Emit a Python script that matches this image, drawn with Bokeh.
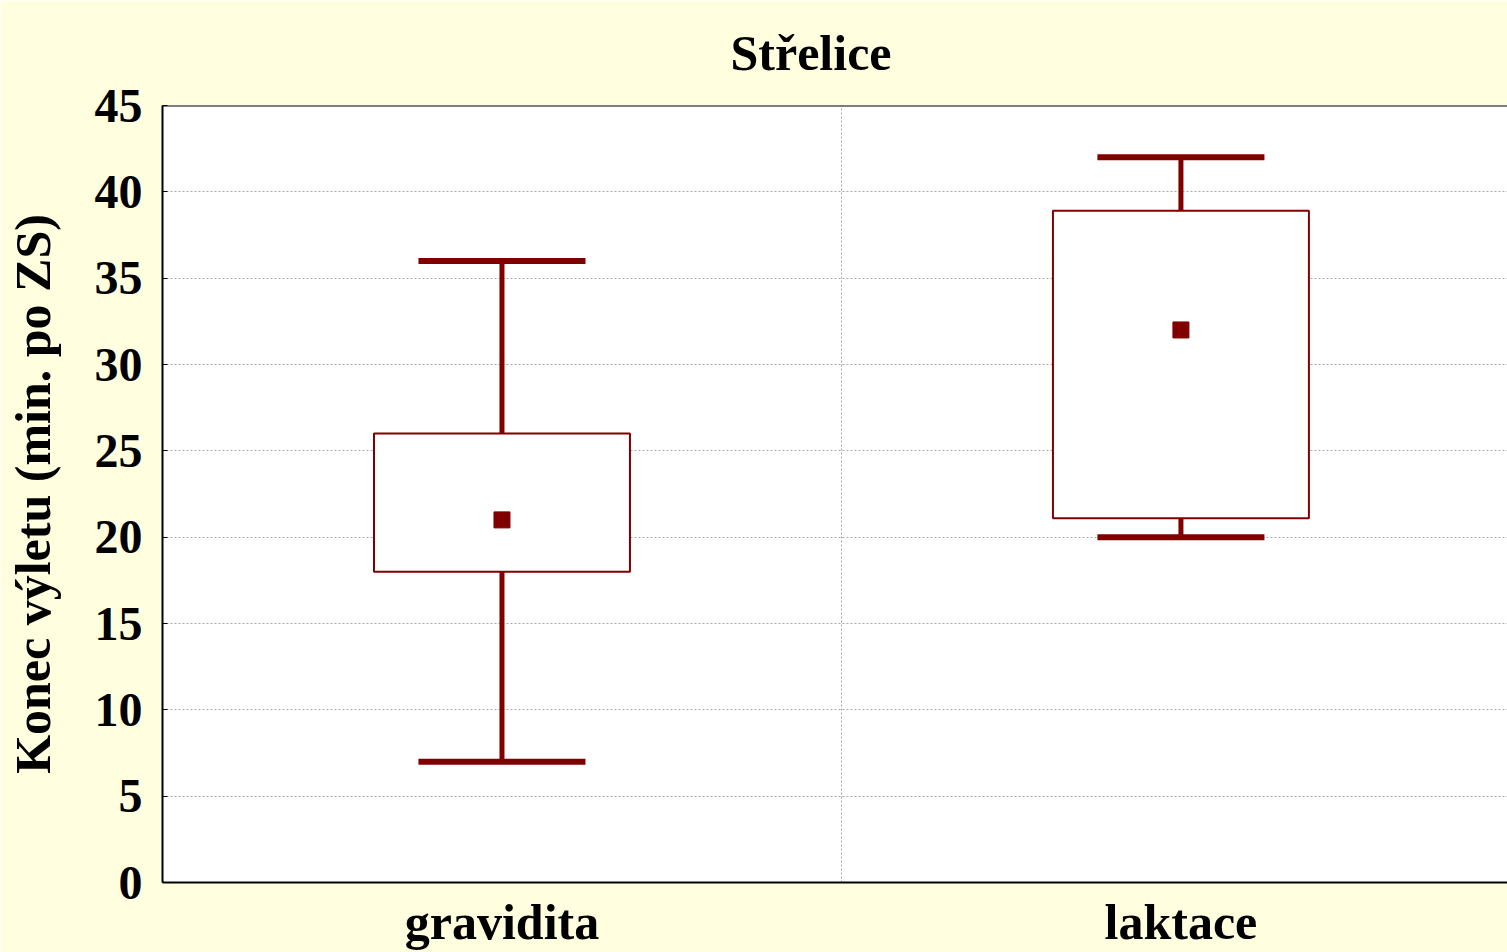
from bokeh.plotting import figure
from bokeh.models import Range1d, FixedTicker, ColumnDataSource, Span
from bokeh.embed import file_html
from bokeh.resources import INLINE

# ---- data ----
categories = ["gravidita", "laktace"]
whisker_low = [7, 20]
box_low = [18, 21.1]
center_val = [21, 32]
box_high = [26, 38.9]
whisker_high = [36, 42]
y_ticks = [0, 5, 10, 15, 20, 25, 30, 35, 40, 45]

title_text = "Střelice"
y_label_text = "Konec výletu (min. po ZS)"

# ---- styles ----
DARK_RED = "#800000"
BG = "#FFFFDF"
FONT = "Liberation Serif"
BOX_HALF = 0.1885
CAP_HALF = 0.123

xpos = [i + 0.5 for i in range(len(categories))]
src = ColumnDataSource(dict(
    x=xpos, wl=whisker_low, bl=box_low, c=center_val,
    bh=box_high, wh=whisker_high,
    left=[v - BOX_HALF for v in xpos], right=[v + BOX_HALF for v in xpos],
    cl=[v - CAP_HALF for v in xpos], cr=[v + CAP_HALF for v in xpos],
))

p = figure(width=1507, height=952, output_backend="svg", toolbar_location=None,
           x_range=Range1d(0, 1.981), y_range=Range1d(0, 45),
           min_border_left=162, min_border_top=105, min_border_bottom=70,
           min_border_right=0, title=title_text)
p.border_fill_color = BG
p.background_fill_color = "white"
p.outline_line_color = None

# title
p.title.text_font = FONT
p.title.text_font_style = "bold"
p.title.text_font_size = "50px"
p.title.text_color = "black"
p.title.align = "left"
p.title.offset = 568
p.title.vertical_align = "top"
p.title.standoff = 46

# axes
p.yaxis.ticker = FixedTicker(ticks=y_ticks)
p.yaxis.major_label_text_font = FONT
p.yaxis.major_label_text_font_style = "bold"
p.yaxis.major_label_text_font_size = "48px"
p.yaxis.major_label_text_color = "black"
p.yaxis.major_label_standoff = 20
p.yaxis.major_tick_in = 5
p.yaxis.major_tick_out = 0
p.yaxis.minor_tick_line_color = None
p.yaxis.axis_line_width = 2
p.yaxis.axis_line_color = "black"
p.yaxis.axis_label = y_label_text
p.yaxis.axis_label_text_font = FONT
p.yaxis.axis_label_text_font_style = "bold"
p.yaxis.axis_label_text_font_size = "50px"
p.yaxis.axis_label_text_color = "black"
p.yaxis.axis_label_standoff = 31

p.xaxis.ticker = FixedTicker(ticks=xpos)
p.xaxis.major_label_overrides = {x: c for x, c in zip(xpos, categories)}
p.xaxis.major_label_text_font = FONT
p.xaxis.major_label_text_font_style = "bold"
p.xaxis.major_label_text_font_size = "50px"
p.xaxis.major_label_text_color = "black"
p.xaxis.major_label_standoff = 11
p.xaxis.major_tick_in = 0
p.xaxis.major_tick_out = 0
p.xaxis.minor_tick_line_color = None
p.xaxis.axis_line_width = 2
p.xaxis.axis_line_color = "black"

# grid
p.ygrid.ticker = FixedTicker(ticks=y_ticks)
p.ygrid.grid_line_color = "#a8a8a8"
p.ygrid.grid_line_dash = "2 2"
p.ygrid.grid_line_width = 1
p.xgrid.ticker = FixedTicker(ticks=[1.0])
p.xgrid.grid_line_color = "#a8a8a8"
p.xgrid.grid_line_dash = "2 2"
p.xgrid.grid_line_width = 1

# top frame line
p.add_layout(Span(location=45, dimension="width", line_color="black", line_width=2))

# whiskers
p.segment(x0="x", y0="wl", x1="x", y1="bl", source=src, line_color=DARK_RED, line_width=5)
p.segment(x0="x", y0="bh", x1="x", y1="wh", source=src, line_color=DARK_RED, line_width=5)
p.segment(x0="cl", y0="wl", x1="cr", y1="wl", source=src, line_color=DARK_RED, line_width=6)
p.segment(x0="cl", y0="wh", x1="cr", y1="wh", source=src, line_color=DARK_RED, line_width=6)

# boxes
p.quad(left="left", right="right", bottom="bl", top="bh", source=src,
       fill_color="white", line_color=DARK_RED, line_width=2)

# center points
p.scatter(x="x", y="c", source=src, marker="square", size=16,
          fill_color=DARK_RED, line_color=DARK_RED)

open("out.html", "w").write(file_html(p, INLINE))
